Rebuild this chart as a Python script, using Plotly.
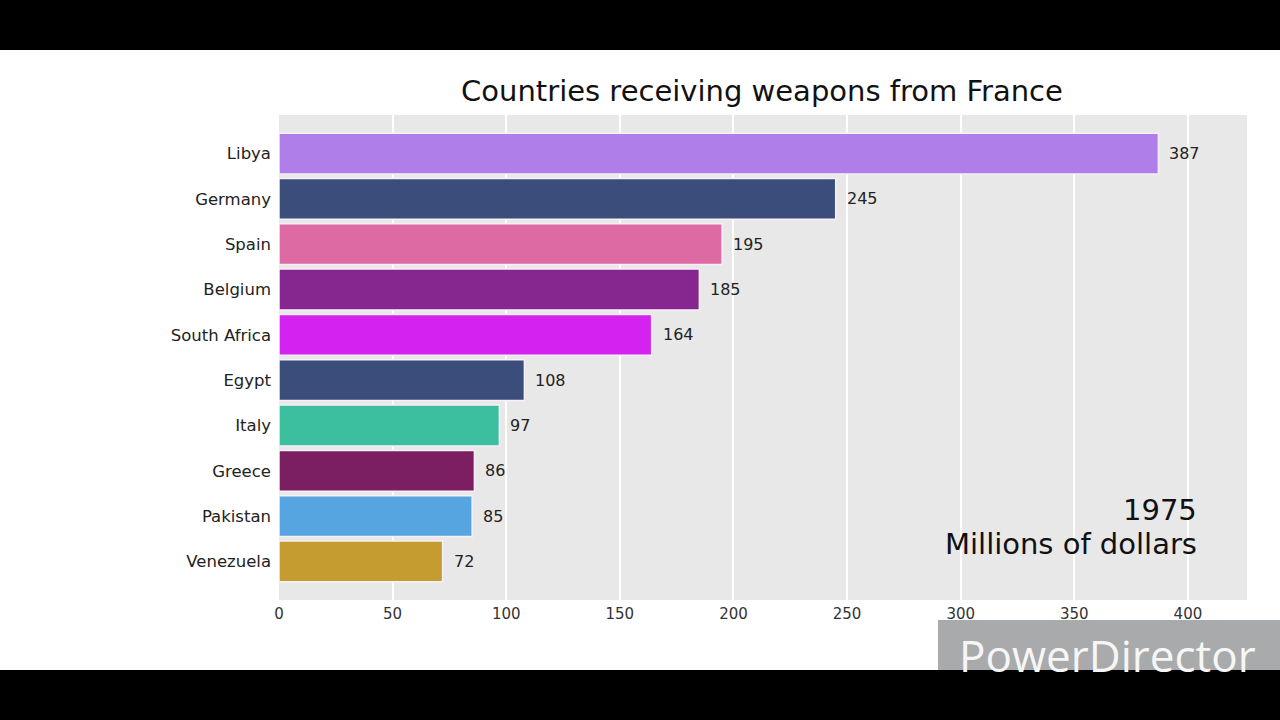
import plotly.graph_objects as go

countries = ["Libya", "Germany", "Spain", "Belgium", "South Africa", "Egypt",
             "Italy", "Greece", "Pakistan", "Venezuela"]
values = [387, 245, 195, 185, 164, 108, 97, 86, 85, 72]
colors = ["#b07ee9", "#3a4d7b", "#de6aa4", "#86278f", "#d423f1", "#3a4d7b",
          "#3cbf9e", "#7b1f62", "#56a5e1", "#c49c2f"]
x_ticks = [0, 50, 100, 150, 200, 250, 300, 350, 400]
year_label = "1975"
unit_label = "Millions of dollars"
title = "Countries receiving weapons from France"

W, H = 1280, 720
L, R, T, B = 279, 1247, 115, 600

def px(x):
    return (x - L) / (R - L)

def py(y):
    return (B - y) / (B - T)

fig = go.Figure()
fig.add_trace(go.Bar(
    x=values, y=countries, orientation="h",
    marker=dict(color=colors, line=dict(color="#f8f0f8", width=1.5)),
    width=0.9, hoverinfo="skip",
))

annotations = []
for c, v in zip(countries, values):
    annotations.append(dict(x=v, y=c, xref="x", yref="y", text=str(v),
                            showarrow=False, xanchor="left", xshift=9,
                            font=dict(size=16, color="#222222",
                                      family="DejaVu Sans")))
annotations.append(dict(x=px(1199), y=py(510), xref="paper", yref="paper",
                        text=year_label, showarrow=False, xanchor="right",
                        yanchor="middle",
                        font=dict(size=29, color="#111111", family="DejaVu Sans")))
annotations.append(dict(x=px(1199), y=py(544), xref="paper", yref="paper",
                        text=unit_label, showarrow=False, xanchor="right",
                        yanchor="middle",
                        font=dict(size=29, color="#111111", family="DejaVu Sans")))
annotations.append(dict(x=px(1258), y=py(655), xref="paper", yref="paper",
                        text="PowerDirector", showarrow=False, xanchor="right",
                        yanchor="middle",
                        font=dict(size=44, color="#f6f6f6", family="Open Sans")))

shapes = [
    dict(type="rect", xref="paper", yref="paper", x0=px(0), x1=px(W),
         y0=py(0), y1=py(50), fillcolor="black", line=dict(width=0), layer="above"),
    dict(type="rect", xref="paper", yref="paper", x0=px(0), x1=px(W),
         y0=py(670), y1=py(H), fillcolor="black", line=dict(width=0), layer="above"),
    dict(type="rect", xref="paper", yref="paper", x0=px(938), x1=px(W),
         y0=py(620), y1=py(670), fillcolor="#a9aaab", line=dict(width=0), layer="above"),
]

fig.update_layout(
    width=W, height=H,
    margin=dict(l=L, r=W - R, t=T, b=H - B, pad=0),
    paper_bgcolor="white", plot_bgcolor="#e8e8e8",
    showlegend=False,
    title=dict(text=title, xref="container", x=762 / W, xanchor="center",
               yref="container", y=1 - 91 / H, yanchor="middle",
               font=dict(size=29, color="#111111", family="DejaVu Sans")),
    xaxis=dict(range=[0, 426], tickvals=x_ticks, showgrid=True,
               gridcolor="white", gridwidth=1.5, zeroline=False,
               tickfont=dict(size=15, color="#333333", family="DejaVu Sans"),
               ticks="", showline=False, ticklabelstandoff=3),
    yaxis=dict(autorange=False, range=[9.85, -0.85], showgrid=False,
               zeroline=False, ticks="", ticklabelstandoff=7,
               tickfont=dict(size=16.5, color="#222222", family="DejaVu Sans")),
    annotations=annotations, shapes=shapes,
)

fig.write_html("out.html")
